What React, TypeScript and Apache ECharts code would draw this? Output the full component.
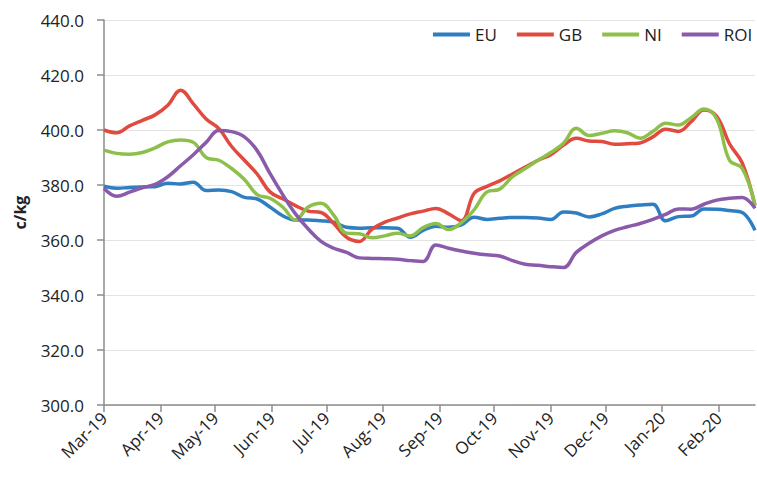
import React, { useEffect, useRef } from "react";
import * as echarts from "echarts";

// Weekly observations starting 1 Mar 2019 (day offset = week * 7)
const weeks: number[] = Array.from({ length: 52 }, (_, i) => i * 7);

const monthStarts = [0, 31, 61, 92, 122, 153, 184, 214, 245, 275, 306, 337];
const monthLabels = [
  "Mar-19", "Apr-19", "May-19", "Jun-19", "Jul-19", "Aug-19",
  "Sep-19", "Oct-19", "Nov-19", "Dec-19", "Jan-20", "Feb-20",
];

const EU = [
  379.6, 378.8, 379.1, 379.3, 379.4, 380.6, 380.4, 381.0, 378.0, 378.2,
  377.6, 375.5, 374.9, 372.0, 368.8, 367.3, 367.3, 367.0, 366.5, 364.6,
  364.3, 364.5, 364.5, 364.3, 361.0, 363.5, 365.0, 364.6, 365.5, 368.3,
  367.5, 367.9, 368.2, 368.2, 368.0, 367.5, 370.2, 369.8, 368.4, 369.5,
  371.5, 372.3, 372.7, 373.0, 367.0, 368.5, 368.7, 371.3, 371.2, 370.7,
  370.0, 363.5,
];

const GB = [
  400.0, 399.0, 401.5, 403.5, 405.5, 409.0, 414.5, 409.5, 404.0, 400.5,
  394.0, 389.0, 384.0, 377.5, 375.0, 372.5, 370.5, 370.0, 366.0, 361.0,
  359.5, 364.0, 366.5, 368.0, 369.5, 370.5, 371.5, 369.5, 367.0, 377.0,
  379.5, 381.5, 384.0, 386.5, 389.0, 391.0, 394.5, 397.0, 396.0, 395.8,
  394.8, 395.0, 395.3, 397.5, 400.3, 399.5, 403.0, 407.3, 405.0, 395.0,
  388.0, 372.5,
];

const NI = [
  392.7, 391.5, 391.2, 391.8, 393.5, 395.7, 396.4, 395.5, 390.0, 389.0,
  386.0, 382.0, 376.5, 375.2, 372.0, 367.3, 372.0, 373.4, 369.0, 362.5,
  362.3, 360.8, 361.5, 362.5, 361.5, 364.5, 366.0, 363.8, 366.3, 371.0,
  377.5, 378.5, 383.0, 386.0, 389.0, 391.8, 395.2, 400.6, 398.0, 398.8,
  399.7, 399.0, 397.0, 399.5, 402.5, 401.8, 404.5, 407.6, 404.0, 389.0,
  386.0, 372.7,
];

const ROI = [
  378.8, 375.9, 377.4, 379.0, 380.2, 383.0, 387.0, 391.0, 395.5, 399.8,
  399.4, 397.5, 392.5, 384.2, 376.5, 369.5, 364.0, 359.5, 357.0, 355.5,
  353.5, 353.3, 353.2, 353.0, 352.5, 352.2, 358.2, 357.0, 356.0, 355.2,
  354.6, 354.2, 352.5, 351.2, 350.8, 350.3, 350.0, 355.5, 358.8, 361.5,
  363.5, 364.8, 366.0, 367.5, 369.3, 371.3, 371.2, 373.0, 374.5, 375.2,
  375.5, 371.5,
];

const seriesDefs = [
  { name: "EU", data: EU, color: "#2E7EC1" },
  { name: "GB", data: GB, color: "#E04A3F" },
  { name: "NI", data: NI, color: "#8DC04A" },
  { name: "ROI", data: ROI, color: "#8A5BAA" },
];

const FONT = "'Open Sans', 'Liberation Sans', sans-serif";

export default function App() {
  const ref = useRef<HTMLDivElement>(null);

  useEffect(() => {
    document.body.style.margin = "0";
    if (!ref.current) return;
    const chart = echarts.init(ref.current, undefined, { renderer: "svg" });
    chart.setOption({
      animation: false,
      backgroundColor: "#ffffff",
      textStyle: { fontFamily: FONT },
      legend: {
        left: 428,
        top: 21,
        width: 420,
        orient: "horizontal",
        icon: "rect",
        itemWidth: 37,
        itemHeight: 4,
        itemGap: 20,
        textStyle: { fontSize: 17, color: "#222", fontFamily: FONT },
        data: seriesDefs.map((s) => s.name),
      },
      grid: { left: 104, right: 2, top: 20, bottom: 75 },
      xAxis: {
        type: "value",
        min: 0,
        max: 357,
        splitLine: { show: false },
        axisLine: { show: true, lineStyle: { color: "#8c8c8c", width: 1.5 } },
        axisTick: {
          show: true,
          length: 7,
          customValues: monthStarts,
          lineStyle: { color: "#8c8c8c", width: 1.5 },
        },
        axisLabel: {
          customValues: monthStarts,
          rotate: 45,
          margin: 10,
          fontSize: 17,
          color: "#222",
          fontFamily: FONT,
          formatter: (v: number) => {
            const idx = monthStarts.indexOf(Math.round(v));
            return idx >= 0 ? monthLabels[idx] : "";
          },
        },
      },
      yAxis: {
        type: "value",
        min: 300,
        max: 440,
        interval: 20,
        name: "c/kg",
        nameLocation: "middle",
        nameGap: 76,
        nameRotate: 90,
        nameTextStyle: { fontSize: 16, fontWeight: "bold", color: "#222", fontFamily: FONT },
        axisLine: { show: true, lineStyle: { color: "#8c8c8c", width: 1.5 } },
        axisTick: { show: true, length: 7, lineStyle: { color: "#8c8c8c", width: 1.5 } },
        axisLabel: {
          margin: 20,
          fontSize: 17,
          color: "#222",
          fontFamily: FONT,
          formatter: (v: number) => v.toFixed(1),
        },
        splitLine: { show: true, lineStyle: { color: "#e3e3e3", width: 1 } },
      },
      series: seriesDefs.map((s) => ({
        name: s.name,
        type: "line",
        smooth: 0.4,
        showSymbol: false,
        symbol: "none",
        data: s.data.map((v, i) => [weeks[i], v]),
        itemStyle: { color: s.color },
        lineStyle: { color: s.color, width: 3.5 },
      })),
    });
    return () => chart.dispose();
  }, []);

  return <div ref={ref} style={{ width: 757, height: 480 }} />;
}
